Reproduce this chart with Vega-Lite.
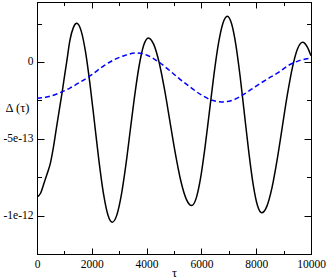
{
  "$schema": "https://vega.github.io/schema/vega-lite/v6.json",
  "width": 274,
  "height": 252,
  "autosize": {"type": "none"},
  "padding": {"left": 37, "top": 2, "right": 16, "bottom": 24},
  "background": "white",
  "config": {
    "font": "'Liberation Serif', 'Times New Roman', 'DejaVu Serif', serif",
    "view": {"stroke": "black", "strokeWidth": 1},
    "axis": {
      "grid": false,
      "domainColor": "black",
      "tickColor": "black",
      "labelColor": "black",
      "titleColor": "black",
      "labelFont": "'Liberation Serif', 'Times New Roman', 'DejaVu Serif', serif",
      "titleFont": "'Liberation Serif', 'Times New Roman', 'DejaVu Serif', serif",
      "labelFontSize": 11.5,
      "titleFontSize": 12.5,
      "titleFontWeight": "normal"
    }
  },
  "datasets": {
    "black": [
      {"tau": 0, "delta": -8.79e-13},
      {"tau": 135, "delta": -8.53e-13},
      {"tau": 255, "delta": -7.89e-13},
      {"tau": 376, "delta": -7.25e-13},
      {"tau": 500, "delta": -6.50e-13},
      {"tau": 584, "delta": -5.71e-13},
      {"tau": 700, "delta": -4.40e-13},
      {"tau": 814, "delta": -3.12e-13},
      {"tau": 920, "delta": -1.95e-13},
      {"tau": 1011, "delta": -0.84e-13},
      {"tau": 1084, "delta": 0},
      {"tau": 1204, "delta": 1.43e-13},
      {"tau": 1330, "delta": 2.25e-13},
      {"tau": 1449, "delta": 2.51e-13},
      {"tau": 1611, "delta": 2.02e-13},
      {"tau": 1774, "delta": 0.62e-13},
      {"tau": 1936, "delta": -1.48e-13},
      {"tau": 2099, "delta": -3.96e-13},
      {"tau": 2261, "delta": -6.44e-13},
      {"tau": 2423, "delta": -8.54e-13},
      {"tau": 2586, "delta": -9.94e-13},
      {"tau": 2748, "delta": -10.43e-13},
      {"tau": 2912, "delta": -9.97e-13},
      {"tau": 3077, "delta": -8.67e-13},
      {"tau": 3241, "delta": -6.73e-13},
      {"tau": 3405, "delta": -4.43e-13},
      {"tau": 3569, "delta": -2.14e-13},
      {"tau": 3733, "delta": -0.20e-13},
      {"tau": 3897, "delta": 1.10e-13},
      {"tau": 4062, "delta": 1.56e-13},
      {"tau": 4260, "delta": 1.14e-13},
      {"tau": 4458, "delta": -0.04e-13},
      {"tau": 4656, "delta": -1.81e-13},
      {"tau": 4854, "delta": -3.90e-13},
      {"tau": 5052, "delta": -5.98e-13},
      {"tau": 5250, "delta": -7.75e-13},
      {"tau": 5448, "delta": -8.93e-13},
      {"tau": 5646, "delta": -9.35e-13},
      {"tau": 5808, "delta": -8.88e-13},
      {"tau": 5971, "delta": -7.55e-13},
      {"tau": 6133, "delta": -5.55e-13},
      {"tau": 6296, "delta": -3.19e-13},
      {"tau": 6458, "delta": -0.83e-13},
      {"tau": 6620, "delta": 1.17e-13},
      {"tau": 6783, "delta": 2.50e-13},
      {"tau": 6945, "delta": 2.97e-13},
      {"tau": 7102, "delta": 2.48e-13},
      {"tau": 7259, "delta": 1.10e-13},
      {"tau": 7416, "delta": -0.98e-13},
      {"tau": 7573, "delta": -3.43e-13},
      {"tau": 7730, "delta": -5.87e-13},
      {"tau": 7887, "delta": -7.95e-13},
      {"tau": 8044, "delta": -9.33e-13},
      {"tau": 8201, "delta": -9.82e-13},
      {"tau": 8388, "delta": -9.40e-13},
      {"tau": 8575, "delta": -8.20e-13},
      {"tau": 8762, "delta": -6.39e-13},
      {"tau": 8949, "delta": -4.27e-13},
      {"tau": 9136, "delta": -2.15e-13},
      {"tau": 9323, "delta": -0.35e-13},
      {"tau": 9510, "delta": 0.86e-13},
      {"tau": 9697, "delta": 1.28e-13},
      {"tau": 9872, "delta": 0.95e-13},
      {"tau": 10000, "delta": 0.40e-13}
    ],
    "blue": [
      {"tau": 0, "delta": -2.36e-13},
      {"tau": 400, "delta": -2.27e-13},
      {"tau": 800, "delta": -2.03e-13},
      {"tau": 1200, "delta": -1.70e-13},
      {"tau": 1600, "delta": -1.29e-13},
      {"tau": 2000, "delta": -0.83e-13},
      {"tau": 2400, "delta": -0.30e-13},
      {"tau": 2800, "delta": 0.13e-13},
      {"tau": 3200, "delta": 0.42e-13},
      {"tau": 3600, "delta": 0.58e-13},
      {"tau": 4000, "delta": 0.45e-13},
      {"tau": 4400, "delta": 0.05e-13},
      {"tau": 4800, "delta": -0.50e-13},
      {"tau": 5200, "delta": -1.10e-13},
      {"tau": 5600, "delta": -1.65e-13},
      {"tau": 6000, "delta": -2.15e-13},
      {"tau": 6400, "delta": -2.50e-13},
      {"tau": 6800, "delta": -2.60e-13},
      {"tau": 7200, "delta": -2.45e-13},
      {"tau": 7600, "delta": -2.05e-13},
      {"tau": 8000, "delta": -1.57e-13},
      {"tau": 8400, "delta": -1.12e-13},
      {"tau": 8800, "delta": -0.70e-13},
      {"tau": 9200, "delta": -0.20e-13},
      {"tau": 9600, "delta": 0.10e-13},
      {"tau": 10000, "delta": 0.26e-13}
    ]
  },
  "layer": [
    {
      "data": {"name": "black"},
      "mark": {"type": "line", "color": "black", "strokeWidth": 1.5, "interpolate": "monotone", "clip": true},
      "encoding": {
        "x": {
          "field": "tau", "type": "quantitative",
          "scale": {"domain": [0, 10000], "nice": false, "zero": false},
          "axis": {
            "orient": "bottom",
            "title": "τ",
            "values": [0, 1000, 2000, 3000, 4000, 5000, 6000, 7000, 8000, 9000, 10000],
            "format": "d",
            "labelExpr": "datum.value % 2000 === 0 ? datum.label : ''",
            "labelFlush": false,
            "labelOverlap": false,
            "tickSize": {"condition": {"test": "datum.value % 2000 === 0", "value": -6}, "value": -3.5},
            "labelPadding": 10,
            "titleY": 22,
            "titleBaseline": "alphabetic"
          }
        },
        "y": {
          "field": "delta", "type": "quantitative",
          "scale": {"domain": [-1.25e-12, 3.9e-13], "nice": false, "zero": false},
          "axis": {
            "orient": "left",
            "title": "Δ (τ)",
            "values": [2.5e-13, 0, -2.5e-13, -5e-13, -7.5e-13, -1e-12],
            "labelExpr": "datum.value === 0 ? '0' : (abs(datum.value + 5e-13) < 1e-15 ? '-5e-13' : (abs(datum.value + 1e-12) < 1e-15 ? '-1e-12' : ''))",
            "labelOverlap": false,
            "labelFlush": false,
            "tickSize": {"condition": {"test": "abs(datum.value) < 1e-15 || abs(datum.value + 5e-13) < 1e-15 || abs(datum.value + 1e-12) < 1e-15", "value": -7}, "value": -4.5},
            "labelPadding": 11,
            "labelBaseline": "middle",
            "titleAngle": 0,
            "titleX": -20,
            "titleY": 105,
            "titleAlign": "center",
            "titleBaseline": "middle"
          }
        }
      }
    },
    {
      "data": {"name": "blue"},
      "mark": {"type": "line", "color": "#0000ff", "strokeWidth": 1.5, "strokeDash": [5, 3], "interpolate": "monotone", "clip": true},
      "encoding": {
        "x": {
          "field": "tau", "type": "quantitative",
          "axis": {
            "orient": "top",
            "title": null,
            "labels": false,
            "values": [0, 1000, 2000, 3000, 4000, 5000, 6000, 7000, 8000, 9000, 10000],
            "tickSize": {"condition": {"test": "datum.value % 2000 === 0", "value": -6}, "value": -3.5}
          }
        },
        "y": {
          "field": "delta", "type": "quantitative",
          "axis": {
            "orient": "right",
            "title": null,
            "labels": false,
            "values": [2.5e-13, 0, -2.5e-13, -5e-13, -7.5e-13, -1e-12],
            "tickSize": {"condition": {"test": "abs(datum.value) < 1e-15 || abs(datum.value + 5e-13) < 1e-15 || abs(datum.value + 1e-12) < 1e-15", "value": -7}, "value": -4.5}
          }
        }
      }
    }
  ],
  "resolve": {"axis": {"x": "independent", "y": "independent"}}
}
